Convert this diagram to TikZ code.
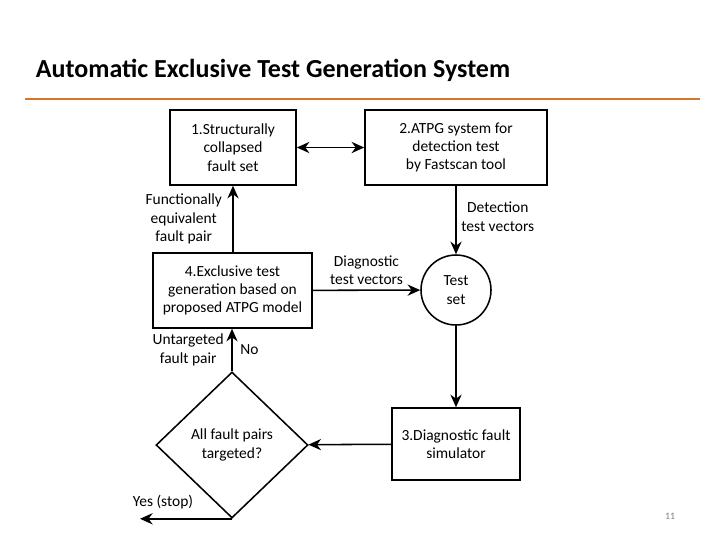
\documentclass[tikz,border=0pt]{standalone}
\usepackage{fontspec}
\setmainfont{Carlito}
\usetikzlibrary{arrows.meta}
\usetikzlibrary{shapes}
\definecolor{rule}{RGB}{214,118,40}

\begin{document}
\begin{tikzpicture}[x=0.025cm, y=-0.025cm, font=\fontsize{11}{13}\selectfont,
    box/.style={draw, line width=1.1pt, align=center, inner sep=0pt},
    lbl/.style={align=center, font=\fontsize{11}{13}\selectfont},
    flow/.style={line width=1.1pt, -{Stealth[length=9pt,width=8pt]}}]
    \useasboundingbox (0, 0) rectangle (720, 540);
    \node[anchor=west, font=\fontsize{18.5}{22}\selectfont\bfseries] (title) at (31, 70) {Automatic Exclusive Test Generation System};
    \draw[rule, line width=1.5pt] (25, 99) -- (700, 99);
    \node[box, minimum width=126*0.025cm, minimum height=75*0.025cm] (fault) at (233, 147.5) {1.Structurally\\collapsed\\fault set};
    \node[box, minimum width=182*0.025cm, minimum height=75*0.025cm] (atpg) at (456, 147.5) {2.ATPG system for\\detection test\\by Fastscan tool};
    \node[box, minimum width=159*0.025cm, minimum height=75*0.025cm] (excl) at (232.5, 290.5) {4.Exclusive test\\generation based on\\proposed ATPG model};
    \node[draw, line width=1.1pt, circle, minimum size=70*0.025cm, inner sep=0pt, align=center] (tset) at (456, 290) {Test\\set};
    \node[box, minimum width=128*0.025cm, minimum height=72*0.025cm] (sim) at (456, 444) {3.Diagnostic fault\\simulator};
    \node[draw, line width=1.1pt, diamond, minimum width=152*0.025cm, minimum height=146*0.025cm, inner sep=0pt, align=center] (check) at (232, 445) {All fault pairs\\targeted?};
    \coordinate (stop) at (140, 518);
    \draw[flow, {Stealth[length=9pt,width=8pt]}-{Stealth[length=9pt,width=8pt]}] (fault) -- (atpg);
    \draw[flow] (atpg) -- (tset) node[lbl, pos=0.45, right] {Detection\\test vectors};
    \draw[flow] (excl) -- (tset) node[lbl, midway, above] {Diagnostic\\test vectors};
    \draw[flow] (excl.north -| fault) -- (fault) node[lbl, midway, left, xshift=-4pt] {Functionally\\equivalent\\fault pair};
    \draw[flow] (tset) -- (sim);
    \draw[flow] (sim) -- (check);
    \draw[flow] (check.north) -- (check.north |- excl.south) node[lbl, midway, left, xshift=-2pt] {Untargeted\\fault pair} node[lbl, midway, right, xshift=2pt] {No};
    \draw[flow] (check.south) -- (check.south -| stop) node[lbl, pos=0.75, above, yshift=3pt] {Yes (stop)};
    \node[text=gray, font=\fontsize{7}{8}\selectfont] (page) at (670, 516) {11};
\end{tikzpicture}
\end{document}
